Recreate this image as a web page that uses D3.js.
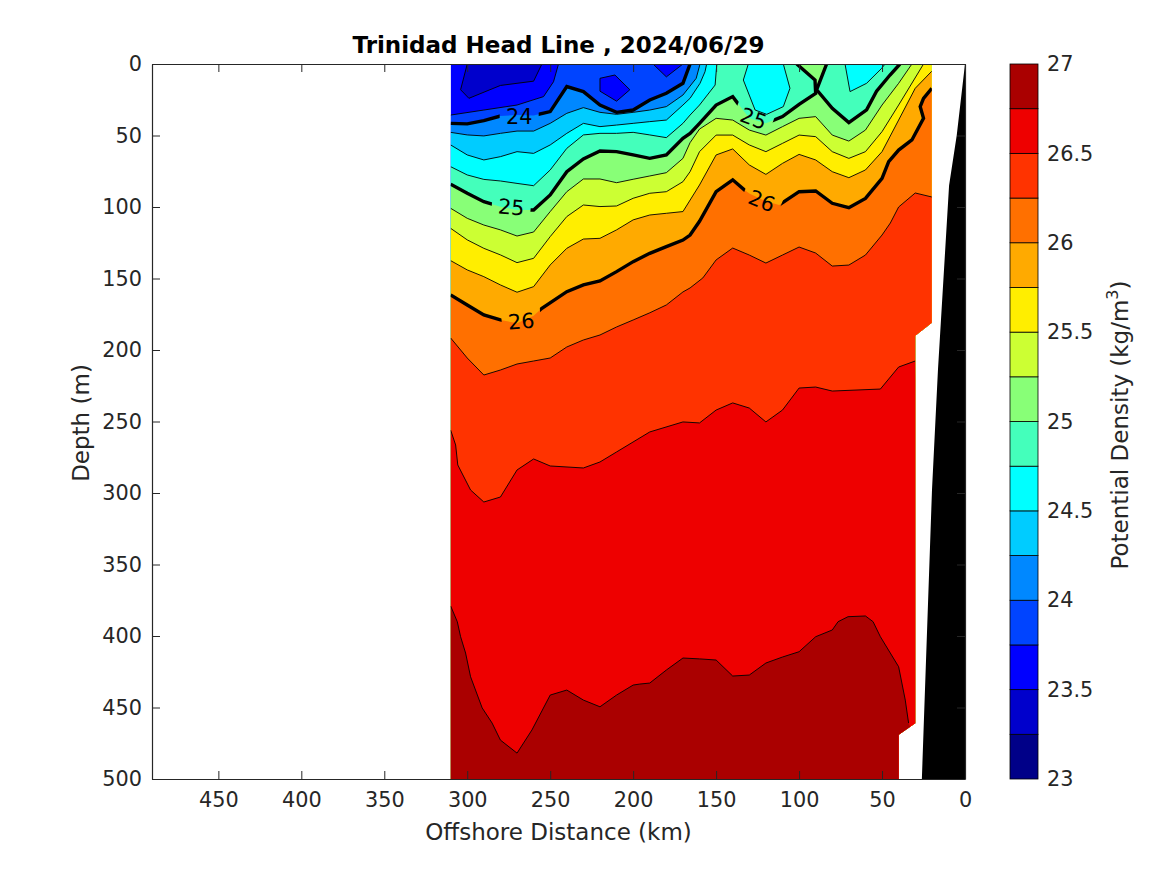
<!DOCTYPE html>
<html lang="en">
<head>
<meta charset="utf-8">
<title>Trinidad Head Line</title>
<script src="https://d3js.org/d3.v7.min.js"></script>
<style>
  body { margin: 0; background: #fff; }
  text { font-family: "DejaVu Sans", sans-serif; fill: #262626; }
</style>
</head>
<body>
<script>
var sigma2350 = [[300,0],[304,18],[299,24],[280,15],[260,12],[255,0]];
var sigma2375 = [[310,35.7],[290,32.2],[270,28.7],[254,22.8],[248,12.4],[245,0]];
var lens2375a = [[220,10],[211,7.7],[202,18],[210,26],[220,19],[220,10]];
var lens2375b = [[188,0],[180,9],[170,0]];
var sigma2400 = [[310,41.5],[300,41.9],[290,39.6],[280,36.4],[270,35.7],[260,36],[250,33.3],[240,15.8],[230,19.3],[220,28.7],[210,33.8],[200,32.2],[190,25.2],[180,20.5],[170,13.5],[165.7,0]];
var sigma2425 = [[310,47.8],[300,49.6],[290,50.3],[280,48.5],[270,46.9],[260,46.9],[250,41.5],[240,34.5],[230,30.5],[220,33.8],[210,35.2],[200,33.8],[190,32.2],[180,29.8],[170,21.7],[162,10],[159.7,0]];
var sigma2450 = [[310,56.6],[300,63.6],[290,67.1],[280,64.8],[270,61.3],[260,62.5],[250,56.6],[240,48.5],[230,41.5],[220,43.8],[210,42.7],[200,41.5],[190,40.3],[180,39.2],[170,28.7],[165.7,24],[159.7,13.5],[156.7,5.4],[155.7,0]];
var sigma2475 = [[310,71.8],[300,77.6],[290,80.7],[280,81.8],[270,83.5],[260,85.1],[250,74.1],[240,59],[230,49.6],[220,48.5],[210,48.5],[200,47.8],[190,49.6],[180,51.5],[170,41.5],[165.7,35.7],[160,28.7],[150.6,14.7],[149.6,0]];
var lens2475a = [[130.6,0],[133.6,11.2],[126.5,32.2],[119.5,35.2],[109.5,29.8],[105.5,17],[109.5,0]];
var lens2475b = [[72.3,0],[69.3,19.3],[59.3,13.5],[50.2,3],[48.2,0]];
var sigma2500a = [[310,84.1],[300,90.4],[290,96.3],[280,99.8],[270,102.1],[260,102.1],[250,91.6],[240,75.3],[230,66.4],[220,60.8],[210,61.3],[200,63.6],[190,66],[180,63.6],[170,52],[165.7,48.5],[160,41.5],[150,28.7],[140,22.8],[135,30.5],[130,38],[120,41.5],[110,36.8],[100,28.2],[90,20.5],[90.4,11.2],[101.4,0]];
var sigma2500b = [[83.4,0],[89.4,18],[80,31],[70,41],[59.3,32],[53.3,19],[45.2,7.7],[39.2,0]];
var sigma2525 = [[310,100.9],[300,107.9],[290,112.6],[280,116],[270,120.3],[260,117.5],[250,103.2],[240,89.3],[230,80.4],[220,80.4],[210,83],[200,80.6],[190,78.3],[180,76],[170,66],[165.7,55],[160,45.5],[150,38],[140,39.2],[130,46.2],[120,49.7],[110,43.8],[100,38],[90,36.8],[80,49.7],[70,53.9],[60,46.2],[50,28.7],[40,13.5],[32,0]];
var sigma2550 = [[310,114.9],[300,123],[290,128.9],[280,133.5],[270,138.9],[260,135.9],[250,120.7],[240,106.7],[230,98.6],[220,99.7],[210,99.3],[200,93.9],[190,90.4],[180,89.3],[170,82.3],[165.7,75.3],[160,61.3],[150,49.7],[140,49.7],[130,56.6],[120,61.3],[110,55.5],[100,49.7],[90,50.8],[80,61.3],[70,66],[60,61.3],[50,47.3],[40,28.7],[29,7.7],[25,0]];
var sigma2575 = [[310,137.5],[300,144],[290,148.7],[280,154.5],[270,159.6],[260,155.7],[250,140.5],[240,128.9],[230,122.4],[220,121.9],[210,116],[200,109],[190,105.6],[180,104.4],[170,103.2],[160,84.6],[150,63.6],[140,59.4],[130,70.6],[120,77.2],[110,69.5],[100,63.2],[90,67.1],[80,75.3],[70,79.5],[60,74.1],[50,61.3],[40,39.2],[30,17],[20,5]];
var sigma2600 = [[310,161.5],[300,168.5],[290,175.5],[280,179],[270,181.3],[260,176],[255,170.8],[240,159.2],[230,154.5],[220,151.7],[210,145.2],[200,138.2],[190,132.4],[180,127.7],[170,123.1],[165.7,119.6],[160,110],[150,89.3],[140,81],[133,88],[130,90.5],[120,96],[112,98.6],[100,89.3],[90,88.8],[80,97.4],[70,100.5],[60,94],[50,80],[46,68.3],[40,60.2],[32,53.1],[25,38],[27,29.8],[25,24],[20,17]];
var sigma2625 = [[310,191.6],[300,205.6],[290,217.5],[280,214],[270,209.8],[260,207.7],[250,205.6],[240,197.9],[230,193],[220,189.5],[210,183.9],[200,179],[190,174],[180,168.5],[170,159.4],[165.7,156.6],[158,149.6],[150,137],[140,128.7],[130,133.6],[120,139.2],[110,133.6],[100,128],[90,132.2],[80,141.3],[70,140.6],[60,133.6],[50,119.6],[45,111.2],[40,100],[30,90.2],[20,93]];
var sigma2650 = [[310,256],[307,266.4],[305.7,280.4],[298,297.9],[290,306.3],[280,302.8],[270,283.9],[260,276.2],[250,281.1],[230,282.5],[220,278.3],[210,271.3],[190,257.3],[170,250.3],[160,251],[150,242],[140,237],[130,240.6],[120,250.3],[110,242],[100,226.6],[90,225.9],[80,228.7],[51,227.3],[40,211.9],[30,207.7]];
var sigma2675 = [[310,379],[306,390],[304,400.5],[301,411.9],[298,428.5],[291,450.3],[285,460.9],[280,472.8],[270,481.9],[261,465.7],[250,441.3],[240,437.8],[230,444.8],[220,449.5],[210,441.3],[200,434.3],[196,433.6],[190,432.9],[180,423.8],[170,415.4],[160,416],[150,416.8],[140,428],[130,427.3],[120,418.9],[110,414.7],[100,411],[90,400.5],[80,395.8],[76.5,390],[70.5,386.5],[60,386],[55.4,390],[51,400.5],[40,421.5],[36,444.8],[34,460.9]];

var regionLines = [[sigma2375],[sigma2400],[sigma2425],[sigma2450],[sigma2475],[sigma2500a,sigma2500b],[sigma2525],[sigma2550],[sigma2575],[sigma2600],[sigma2625],[sigma2650],[sigma2675]];
var regionLenses = [[lens2375a,lens2375b],[],[],[],[lens2475a,lens2475b],[],[],[],[],[],[],[],[]];
var regionThick = [false,true,false,false,false,true,false,false,false,true,false,false,false];

// the colours of each density band, lightest water first
var bandEdges = [23,23.25,23.5,23.75,24,24.25,24.5,24.75,25,25.25,25.5,25.75,26,26.25,26.5,26.75,27];
var bandColors = ["#000088","#0000cc","#0000ff","#0044ff","#0088ff","#00ccff","#00ffff","#44ffbb","#88ff77","#ccff33","#ffee00","#ffaa00","#ff7000","#ff3300","#ee0000","#aa0000"];

// where data exists, and the sea floor
var dataOutline = [[310,0],[20,0],[20,181],[30,190],[30,461],[40,469],[40,500],[310,500]];
var seaFloor = [[0,0],[5,50],[9.6,85],[16.3,214],[19.9,298],[26,500],[0,500]];

// inline contour labels
var labelText = ["24","25","26","25","26"];
var labelKm = [268.7,273.5,267.5,127.5,122.5];
var labelDepth = [36.4,100,179.7,38,95.6];
var labelAngle = [0,5,-4,20,22];

var xTicks = [450,400,350,300,250,200,150,100,50,0];
var yTicks = [0,50,100,150,200,250,300,350,400,450,500];
var cbarTicks = [23,23.5,24,24.5,25,25.5,26,26.5,27];

var w = 1167, h = 875;
var left = 152, right = 965, top_ = 64, bottom = 779;
var fontSize = 20.8, labelSize = 23;

var x = d3.scaleLinear().domain([490,0]).range([left,right]);
var y = d3.scaleLinear().domain([0,500]).range([top_,bottom]);
var cbarY = d3.scaleLinear().domain([23,27]).range([bottom,top_]);

var svg = d3.select("body").append("svg").attr("width",w).attr("height",h);
var line = d3.line().x(function(d){return x(d[0]);}).y(function(d){return y(d[1]);});

var defs = svg.append("defs");
defs.append("clipPath").attr("id","dataClip").append("path").attr("d",line(dataOutline)+"Z");

// cuts the thick contours where a label sits
var gapMask = defs.append("mask").attr("id","labelGaps").attr("maskUnits","userSpaceOnUse")
	.attr("x",0).attr("y",0).attr("width",w).attr("height",h);
gapMask.append("rect").attr("width",w).attr("height",h).attr("fill","white");
labelText.forEach(function(t,i){
	gapMask.append("rect").attr("x",-19.5).attr("y",-13).attr("width",39).attr("height",26).attr("fill","black")
		.attr("transform","translate("+x(labelKm[i])+","+y(labelDepth[i])+") rotate("+labelAngle[i]+")");
});

var sect = svg.append("g").attr("clip-path","url(#dataClip)");

// filled bands, painted from light to dense
sect.append("path").attr("d",line(dataOutline)+"Z").attr("fill",bandColors[2]);
sect.append("path").attr("d",line(sigma2350)+"Z").attr("fill",bandColors[1]);

regionLines.forEach(function(parts,i){
	var pts = d3.merge(parts);
	var last = pts[pts.length-1];
	var tail = (last[0]>20 && last[1]==0) ? [[20,0]] : [];
	tail = tail.concat([[20,500],[310,500]]);
	var d = line(pts.concat(tail))+"Z";
	regionLenses[i].forEach(function(l){ d += line(l)+"Z"; });
	sect.append("path").attr("d",d).attr("fill",bandColors[i+3]).attr("fill-rule","evenodd");
});

// thin contours
var thin = sect.append("g").attr("fill","none").attr("stroke","#000").attr("stroke-width",0.9);
thin.append("path").attr("d",line(sigma2350));
regionLines.forEach(function(parts,i){
	if (regionThick[i]) return;
	parts.concat(regionLenses[i]).forEach(function(p){ thin.append("path").attr("d",line(p)); });
});

// thick contours
var thick = sect.append("g").attr("mask","url(#labelGaps)").attr("fill","none").attr("stroke","#000").attr("stroke-width",3.4);
regionLines.forEach(function(parts,i){
	if (!regionThick[i]) return;
	parts.forEach(function(p){ thick.append("path").attr("d",line(p)); });
});

labelText.forEach(function(t,i){
	svg.append("text").text(t).style("fill","#000").attr("font-size",fontSize)
		.attr("text-anchor","middle").attr("dy","0.36em")
		.attr("transform","translate("+x(labelKm[i])+","+y(labelDepth[i])+") rotate("+labelAngle[i]+")");
});

svg.append("path").attr("d",line(seaFloor)+"Z").attr("fill","#000");

// axes, with inward ticks on all four sides
var tickLen = 8;
function styleAxis(g){
	g.selectAll("path").attr("stroke","#262626").attr("stroke-width",1.2);
	g.selectAll("line").attr("stroke","#262626").attr("stroke-width",1);
	g.selectAll("text").attr("font-size",fontSize).attr("font-family","DejaVu Sans");
}
svg.append("g").attr("transform","translate(0,"+bottom+")")
	.call(d3.axisBottom(x).tickValues(xTicks).tickSizeInner(-tickLen).tickSizeOuter(0).tickPadding(13)).call(styleAxis);
svg.append("g").attr("transform","translate(0,"+top_+")")
	.call(d3.axisTop(x).tickValues(xTicks).tickSizeInner(-tickLen).tickSizeOuter(0).tickFormat("")).call(styleAxis);
svg.append("g").attr("transform","translate("+left+",0)")
	.call(d3.axisLeft(y).tickValues(yTicks).tickSizeInner(-tickLen).tickSizeOuter(0).tickPadding(10)).call(styleAxis);
svg.append("g").attr("transform","translate("+right+",0)")
	.call(d3.axisRight(y).tickValues(yTicks).tickSizeInner(-tickLen).tickSizeOuter(0).tickFormat("")).call(styleAxis);

svg.append("text").text("Trinidad Head Line , 2024/06/29").attr("x",(left+right)/2).attr("y",53)
	.attr("text-anchor","middle").attr("font-size",labelSize).attr("font-weight","bold").style("fill","#000");
svg.append("text").text("Offshore Distance (km)").attr("x",(left+right)/2).attr("y",840)
	.attr("text-anchor","middle").attr("font-size",labelSize);
svg.append("text").text("Depth (m)").attr("text-anchor","middle").attr("font-size",labelSize)
	.attr("transform","translate(89,423) rotate(-90)");

// colour bar
var cbarLeft = 1010, cbarWidth = 28;
svg.append("g").selectAll("rect").data(bandColors).enter().append("rect")
	.attr("x",cbarLeft)
	.attr("y",function(d,i){return cbarY(bandEdges[i+1]);})
	.attr("width",cbarWidth)
	.attr("height",function(d,i){return cbarY(bandEdges[i])-cbarY(bandEdges[i+1]);})
	.attr("fill",function(d){return d;})
	.attr("stroke","#000").attr("stroke-width",0.8);

var cbarAxis = svg.append("g").attr("transform","translate("+(cbarLeft+cbarWidth)+",0)")
	.call(d3.axisRight(cbarY).tickValues(cbarTicks).tickSize(0).tickPadding(9).tickFormat(function(d){return d;}));
cbarAxis.select("path").remove();
cbarAxis.selectAll("text").attr("font-size",fontSize).attr("font-family","DejaVu Sans");

var cbarLabel = svg.append("text").attr("text-anchor","middle").attr("font-size",labelSize)
	.attr("transform","translate(1128,425) rotate(-90)");
cbarLabel.append("tspan").text("Potential Density (kg/m");
cbarLabel.append("tspan").text("3").attr("font-size",16).attr("dy",-10);
cbarLabel.append("tspan").text(")").attr("dy",10);
</script>
</body>
</html>
